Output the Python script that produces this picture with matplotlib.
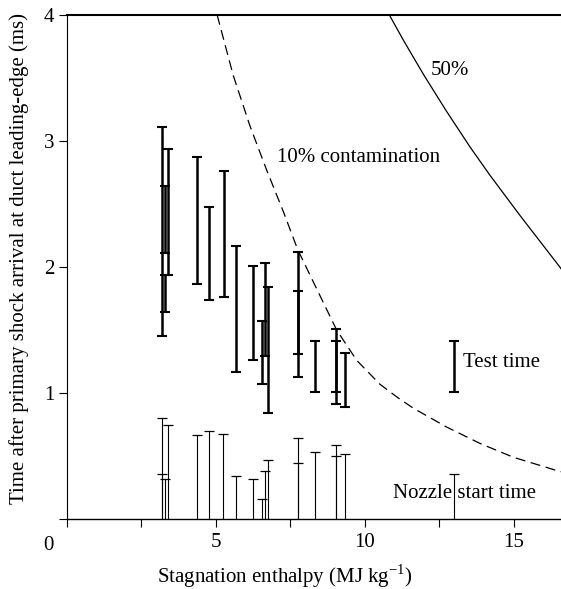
#!/usr/bin/env python3

"""
Test time and nozzle start time against stagnation enthalpy,
with the 10% and 50% contamination limits.
"""

import matplotlib
matplotlib.use("Agg")
import matplotlib.pyplot as plt
import numpy as np

plt.rcParams['font.family'] = ['Liberation Serif', 'DejaVu Serif']
plt.rcParams['mathtext.fontset'] = 'custom'
plt.rcParams['mathtext.rm'] = 'Liberation Serif'
plt.rcParams['font.size'] = 15

# test time windows (ms)
test_h = [3.2, 3.3, 3.3, 3.4, 4.37, 4.77, 5.27, 5.67, 6.25, 6.53, 6.65, 6.73,
          7.74, 7.74, 8.33, 9.03, 9.03, 9.33]
test_hi = [3.11, 2.64, 1.94, 2.94, 2.87, 2.48, 2.76, 2.17, 2.01, 1.57, 2.03, 1.84,
           2.12, 1.81, 1.41, 1.51, 1.41, 1.315]
test_lo = [1.45, 2.11, 1.64, 1.94, 1.865, 1.74, 1.76, 1.17, 1.26, 1.07, 1.29, 0.84,
           1.13, 1.31, 1.01, 1.01, 0.91, 0.887]

# nozzle start times (ms)
nozzle_h = [3.2, 3.2, 3.3, 3.4, 4.37, 4.77, 5.25, 5.67, 6.25, 6.55, 6.65, 6.74,
            7.74, 7.74, 8.34, 9.03, 9.03, 9.32]
nozzle_t = [0.80, 0.36, 0.32, 0.75, 0.664, 0.70, 0.675, 0.34, 0.315, 0.156, 0.38, 0.47,
            0.645, 0.447, 0.534, 0.587, 0.50, 0.516]

# contamination limits
c10_h = [5.04, 5.58, 6.14, 6.70, 7.26, 7.74, 8.27, 9.05, 9.72, 10.5, 11.12,
         11.62, 12.74, 13.86, 14.98, 16.43, 16.6]
c10_t = [4.0, 3.52, 3.12, 2.77, 2.44, 2.14, 1.88, 1.50, 1.26, 1.07, 0.96,
         0.88, 0.73, 0.60, 0.49, 0.385, 0.375]
c50_h = [10.82, 11.29, 11.96, 12.74, 13.52, 14.19, 15.2, 16.54, 16.6]
c50_t = [4.0, 3.80, 3.53, 3.235, 2.955, 2.73, 2.41, 2.0, 1.98]

# key marks
key_h = 13.0
key_test = [1.01, 1.41]
key_nozzle = 0.357


def draw_test(ax, h, lo, hi):
    lo = np.array(lo)
    hi = np.array(hi)
    mid = (lo + hi) / 2
    ax.errorbar(h, mid, yerr=(hi - lo) / 2, fmt='none', ecolor='black',
                elinewidth=1.8, capsize=3.9, capthick=1.5)


def draw_nozzle(ax, h, t):
    ax.vlines(h, 0, t, colors='black', linewidth=0.8)
    ax.plot(h, t, linestyle='none', marker='_', markersize=7.5,
            markeredgewidth=0.9, color='black')


fig = plt.figure(figsize=(5.61, 5.89), dpi=100)
ax = fig.add_axes([67 / 561, 70 / 589, 494 / 561, 504 / 589])

draw_test(ax, test_h, test_lo, test_hi)
draw_nozzle(ax, nozzle_h, nozzle_t)
draw_test(ax, [key_h], [key_test[0]], [key_test[1]])
draw_nozzle(ax, [key_h], [key_nozzle])

ax.plot(c50_h, c50_t, color='black', linewidth=0.9)
ax.plot(c10_h, c10_t, color='black', linewidth=0.9, dashes=(8, 4.5))

ax.text(12.2, 3.56, '50%', va='center', ha='left')
ax.text(7.05, 2.87, '10% contamination', va='center', ha='left')
ax.text(13.3, 1.24, 'Test time', va='center', ha='left')
ax.text(10.95, 0.2, 'Nozzle start time', va='center', ha='left')

ax.set_xlim(0, 16.58)
ax.set_ylim(0, 4)
ax.set_xticks([0, 2.5, 5, 7.5, 10, 12.5, 15])
ax.set_xticklabels(['', '', '5', '', '10', '', '15'])
ax.set_yticks([0, 1, 2, 3, 4])
ax.set_yticklabels(['', '1', '2', '3', '4'])
ax.tick_params(axis='x', direction='out', length=6, width=0.8, pad=4)
ax.tick_params(axis='y', direction='out', length=6, width=0.8, pad=3)
ax.text(-0.038, -0.033, '0', transform=ax.transAxes, ha='center', va='top')

ax.spines['right'].set_visible(False)
ax.spines['top'].set_linewidth(1.5)
ax.spines['left'].set_linewidth(0.8)
ax.spines['bottom'].set_linewidth(1.0)

ax.set_xlabel('Stagnation enthalpy (MJ kg$^{-1}$)')
ax.set_ylabel('Time after primary shock arrival at duct leading-edge (ms)')
ax.xaxis.set_label_coords(0.44, -0.086)
ax.yaxis.set_label_coords(-0.077, 0.517)

fig.savefig('out.png', dpi=100)
